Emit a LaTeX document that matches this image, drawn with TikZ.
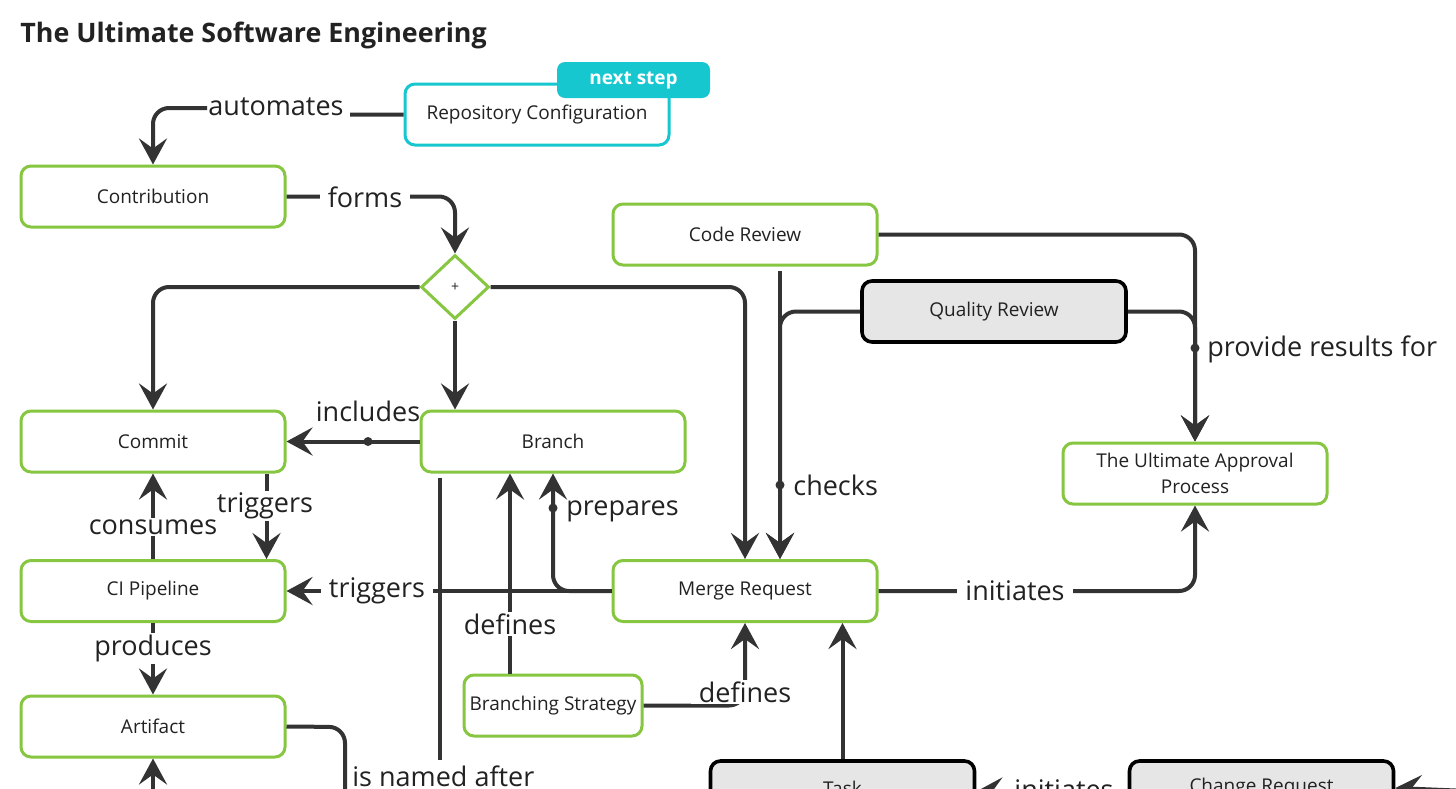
\documentclass[tikz,border=0pt]{standalone}
\usepackage{fontspec}
\setmainfont{Open Sans}
\usetikzlibrary{shapes.geometric,arrows.meta,calc}
\definecolor{gr}{HTML}{86C641}
\definecolor{cy}{HTML}{17C7D0}
\definecolor{dk}{HTML}{333333}
\definecolor{gy}{HTML}{E6E6E6}
\definecolor{tx}{HTML}{222222}
\begin{document}
\begin{tikzpicture}[x=0.5pt,y=-0.5pt,
  box/.style={rounded corners=5pt, minimum width=132pt, minimum height=30.5pt,
    font=\fontsize{9.5}{13}\selectfont, text=tx, align=center, inner sep=2pt},
  gbox/.style={box, draw=gr, line width=1.5pt, fill=white},
  qbox/.style={box, draw=black, line width=1.8pt, fill=gy},
  cbox/.style={box, draw=cy, line width=1.5pt, fill=white},
  conn/.style={draw=dk, line width=2pt, rounded corners=8pt},
  arr/.style={conn, -{Stealth[length=13pt,width=14pt,inset=5pt]}},
  lbl/.style={fill=white, font=\fontsize{13.5}{16}\selectfont, text=tx, inner xsep=4pt, inner ysep=1pt},
  lbln/.style={font=\fontsize{13.5}{16}\selectfont, text=tx, inner sep=1pt},
  dotm/.style={circle, fill=dk, inner sep=0pt, minimum size=4.5pt}]
\clip (0,0) rectangle (1456,788);
\fill[white] (0,0) rectangle (1456,788);
% title
\node[anchor=base west, font=\bfseries\fontsize{13.4}{16}\selectfont, text=tx, inner sep=0pt] (title) at (20,42) {The Ultimate Software Engineering};
% nodes
\node[cbox] (rc) at (537,114.5) {Repository Configuration};
\node[fill=cy, rounded corners=4pt, minimum width=76.5pt, minimum height=18pt, text=white, font=\bfseries\fontsize{9.5}{11}\selectfont, inner sep=0pt] (tag) at (633.5,80) {next step};
\node[gbox] (contrib) at (153,196.5) {Contribution};
\node[diamond, draw=gr, line width=1.5pt, fill=white, minimum width=34pt, minimum height=32pt, inner sep=0pt, font=\fontsize{7}{8}\selectfont, text=tx] (plus) at (455,287) {+};
\node[gbox] (cr) at (745,234.5) {Code Review};
\node[qbox] (qr) at (994,311.5) {Quality Review};
\node[gbox] (commit) at (153,441.5) {Commit};
\node[gbox] (branch) at (553,441.5) {Branch};
\node[gbox] (appr) at (1195,473.5) {The Ultimate Approval\\Process};
\node[gbox] (ci) at (153,591) {CI Pipeline};
\node[gbox] (mr) at (745,591) {Merge Request};
\node[gbox, minimum width=89pt] (bs) at (553,705.5) {Branching Strategy};
\node[gbox] (art) at (153,726.5) {Artifact};
\node[qbox, minimum height=27pt] (task) at (842.5,788) {Task};
\node[qbox, minimum height=27pt] (chg) at (1261.5,788) {Change Request};
% free ends
\coordinate (nameend) at (440,760);
\coordinate (artend) at (345,800);
\coordinate (artsrc) at (153,830);
\coordinate (chgsrc) at (1480,791.5);
% connectors
\draw[arr] (rc.west) -- (350,114.5) (207,108) -- (153,108) -- (contrib.north);
\node[lbln] (l1) at (276,107) {automates};
\draw[arr] (contrib.east) -- (455,196.5) -- (plus.north);
\node[lbl] (l2) at (365,197) {forms};
\draw[arr] (plus.west) -- (153,287) -- (commit.north);
\draw[arr] (plus.south) -- (plus.south |- branch.north);
\draw[arr] (plus.east) -- (745,287) -- (mr.north);
\draw[arr] (branch.west) -- (commit.east);
\node[dotm] (d1) at (368,441.5) {};
\node[lbln] (l3) at (368,411) {includes};
\draw[arr] ([xshift=-10pt]commit.south east) -- ([xshift=-10pt]ci.north east);
\node[lbl] (l4) at (265,506) {triggers};
\draw[arr] (ci.north) -- (commit.south);
\node[lbl] (l5) at (153,527) {consumes};
\draw[arr] (ci.south) -- (art.north);
\node[lbl] (l6) at (153,648) {produces};
\draw[arr] (mr.west) -- (ci.east);
\node[lbl] (l7) at (377,591) {triggers};
\draw[arr] (mr.west) -- (553,591) -- (branch.south);
\node[dotm] (d2) at (553,508) {};
\node[lbln, anchor=west] (l8) at (564,511) {prepares};
\draw[arr] ([xshift=-21.5pt]bs.north) -- ([xshift=-21.5pt]branch.south);
\node[lbl] (l9) at (510,624) {defines};
\draw[arr] (bs.east) -- (745,705.5) -- (mr.south);
\node[lbl] (l10) at (745,692) {defines};
\draw[conn] ([xshift=-56.5pt,yshift=-2pt]branch.south) -- (nameend);
\draw[conn] (art.east) -- (345,727) -- (artend);
\node[lbln, anchor=base west] (l11) at (350,786) {is named after};
\draw[arr] (artsrc) -- (art.south);
\draw[arr] ([xshift=17.5pt,yshift=-2pt]cr.south) -- ([xshift=17.5pt]mr.north);
\draw[arr] (qr.west) -- (780,311.5) -- ([xshift=17.5pt]mr.north);
\node[dotm] (d3) at (780,485) {};
\node[lbln, anchor=west] (l12) at (791,485) {checks};
\draw[arr] (cr.east) -- (1195,234.5) -- (appr.north);
\draw[arr] (qr.east) -- (1195,311.5) -- (appr.north);
\node[dotm] (d4) at (1195,348) {};
\node[lbln, anchor=west] (l13) at (1205,349) {provide results for};
\draw[arr] (mr.east) -- (1195,591) -- (appr.south);
\node[lbl] (l14) at (1015,591) {initiates};
\draw[arr] (task.north) -- (task.north |- mr.south);
\draw[arr] (chgsrc) -- (chg.east);
\draw[arr] (chg.west |- 0,791.5) -- (task.east |- 0,791.5);
\node[lbl] (l15) at (1064,790) {initiates};
\end{tikzpicture}
\end{document}
